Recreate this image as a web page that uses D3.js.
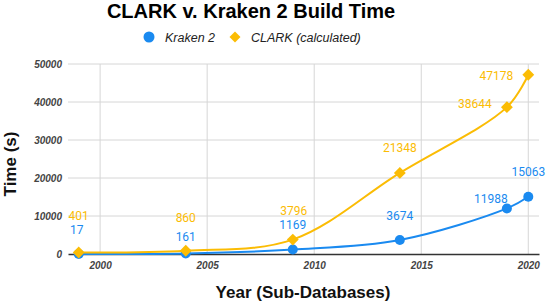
<!DOCTYPE html>
<html><head><meta charset="utf-8">
<script src="https://cdn.jsdelivr.net/npm/d3@7"></script>
<style>body{margin:0;background:#fff}svg{display:block}</style>
</head><body>
<script>
const years = [1999, 2004, 2009, 2014, 2019, 2020];
const kraken = [17, 161, 1169, 3674, 11988, 15063];
const clark = [401, 860, 3796, 21348, 38644, 47178];
const xTicks = [2000, 2005, 2010, 2015, 2020];
const yTicks = [0, 10000, 20000, 30000, 40000, 50000];
// label offsets [dx, dy] relative to point
const krakenOff = [[-2,-23],[0,-16],[0,-24],[0,-23],[-16,-9],[0,-24]];
const clarkOff = [[0,-36],[0,-32],[1,-28],[0,-24],[-32,-2],[-32,2]];

const W = 547, H = 302;
const blue = "#1a8af0", orange = "#fbbc04";
const svg = d3.select("body").append("svg").attr("width", W).attr("height", H);
const x = d3.scaleLinear().domain([1998.5, 2020.5]).range([68, 539]);
const y = d3.scaleLinear().domain([0, 50000]).range([254, 64]);

// grid
svg.append("g").selectAll("line").data(yTicks.slice(1)).join("line")
  .attr("x1", 68).attr("x2", 539).attr("y1", d => y(d)).attr("y2", d => y(d))
  .attr("stroke", "#d6d6d6").attr("stroke-width", 1);
svg.append("g").selectAll("line").data(xTicks).join("line")
  .attr("x1", d => x(d)).attr("x2", d => x(d)).attr("y1", 64).attr("y2", 254)
  .attr("stroke", "#d6d6d6").attr("stroke-width", 1);

// axes
const yAxis = svg.append("g").attr("transform", "translate(68,0)")
  .call(d3.axisLeft(y).tickValues(yTicks).tickSize(0).tickPadding(6).tickFormat(d3.format("d")));
yAxis.select(".domain").remove();
const xAxis = svg.append("g").attr("transform", "translate(0,254)")
  .call(d3.axisBottom(x).tickValues(xTicks).tickSize(0).tickPadding(8).tickFormat(d3.format("d")));
xAxis.select(".domain").attr("stroke", "#333").attr("stroke-width", 1.5);
svg.selectAll(".tick text").attr("font-family", "Arial, Liberation Sans, sans-serif")
  .attr("font-size", 10).attr("font-style", "italic").attr("font-weight", "bold").attr("fill", "#444");

// lines
const line = (vals) => d3.line().x((d, i) => x(years[i])).y(d => y(d)).curve(d3.curveCatmullRom)(vals);
svg.append("path").attr("d", line(kraken)).attr("fill", "none").attr("stroke", blue).attr("stroke-width", 2);
svg.append("path").attr("d", line(clark)).attr("fill", "none").attr("stroke", orange).attr("stroke-width", 2);

// markers
svg.append("g").selectAll("circle").data(kraken).join("circle")
  .attr("cx", (d, i) => x(years[i])).attr("cy", d => y(d)).attr("r", 5).attr("fill", blue);
svg.append("g").selectAll("path").data(clark).join("path")
  .attr("d", d3.symbol(d3.symbolSquare, 70))
  .attr("transform", (d, i) => `translate(${x(years[i])},${y(d)}) rotate(45)`).attr("fill", orange);

// labels
const lbl = (vals, offs, col) => svg.append("g").selectAll("text").data(vals).join("text")
  .attr("x", (d, i) => x(years[i]) + offs[i][0]).attr("y", (d, i) => y(d) + offs[i][1])
  .attr("text-anchor", "middle").attr("dominant-baseline", "middle")
  .attr("font-family", "Roboto, sans-serif").attr("font-size", 12).attr("fill", col).text(d => d);
lbl(kraken, krakenOff, blue);
lbl(clark, clarkOff, orange);

// title
svg.append("text").attr("x", 251).attr("y", 18).attr("text-anchor", "middle")
  .attr("font-family", "Arial, Liberation Sans, sans-serif").attr("font-weight", "bold").attr("font-size", 20)
  .attr("fill", "#000").text("CLARK v. Kraken 2 Build Time");

// legend
svg.append("circle").attr("cx", 149).attr("cy", 37).attr("r", 5.5).attr("fill", blue);
svg.append("text").attr("x", 165).attr("y", 41.5).attr("font-family", "Arial, Liberation Sans, sans-serif")
  .attr("font-size", 12.5).attr("font-style", "italic").attr("fill", "#222").text("Kraken 2");
svg.append("path").attr("d", d3.symbol(d3.symbolSquare, 60)).attr("transform", "translate(235,37) rotate(45)").attr("fill", orange);
svg.append("text").attr("x", 251).attr("y", 41.5).attr("font-family", "Arial, Liberation Sans, sans-serif")
  .attr("font-size", 12.5).attr("font-style", "italic").attr("fill", "#222").text("CLARK (calculated)");

// axis titles
svg.append("text").attr("transform", "translate(16,164) rotate(-90)").attr("text-anchor", "middle")
  .attr("font-family", "Arial, Liberation Sans, sans-serif").attr("font-weight", "bold").attr("font-size", 17)
  .attr("fill", "#111").text("Time (s)");
svg.append("text").attr("x", 303).attr("y", 298).attr("text-anchor", "middle")
  .attr("font-family", "Arial, Liberation Sans, sans-serif").attr("font-weight", "bold").attr("font-size", 17)
  .attr("fill", "#111").text("Year (Sub-Databases)");
</script>
</body></html>
